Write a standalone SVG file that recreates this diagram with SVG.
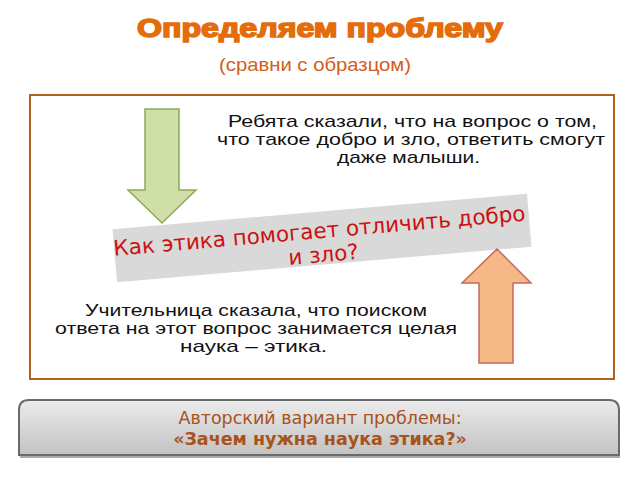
<svg xmlns="http://www.w3.org/2000/svg" width="640" height="480" viewBox="0 0 640 480">
  <style>
    .title { font-family: "Liberation Sans", Arial, sans-serif; font-weight: bold; fill: #e46c0a; stroke: #e46c0a; stroke-width: 1.5; }
    .sub { font-family: "Liberation Sans", Arial, sans-serif; fill: #d2601a; }
    .body { font-family: "Liberation Sans", Arial, sans-serif; fill: #111; font-size: 17px; }
    .ban { font-family: "DejaVu Sans", sans-serif; fill: #cc1010; font-size: 21.5px; }
    .foot { font-family: "DejaVu Sans", sans-serif; fill: #a8521c; font-size: 17.5px; }
  </style>
  <defs>
    <linearGradient id="gbox" x1="0" y1="0" x2="0" y2="1">
      <stop offset="0" stop-color="#ececec"/>
      <stop offset="1" stop-color="#c2c2c2"/>
    </linearGradient>
  </defs>
  <rect width="640" height="480" fill="#ffffff"/>

  <g id="title">
    <text class="title" x="320" y="37" font-size="25" text-anchor="middle" textLength="366" lengthAdjust="spacingAndGlyphs">Определяем проблему</text>
    <text class="sub" x="315" y="71" font-size="19" text-anchor="middle" textLength="192" lengthAdjust="spacingAndGlyphs">(сравни с образцом)</text>
  </g>

  <g id="frame">
    <rect x="30" y="95" width="584" height="284" fill="#ffffff" stroke="#b0621e" stroke-width="2"/>
  </g>

  <g id="text-top">
    <text class="body" x="412.5" y="126.5" text-anchor="middle" textLength="369" lengthAdjust="spacingAndGlyphs">Ребята сказали, что на вопрос о том,</text>
    <text class="body" x="411" y="144.5" text-anchor="middle" textLength="388" lengthAdjust="spacingAndGlyphs">что такое добро и зло, ответить смогут</text>
    <text class="body" x="408.5" y="162.5" text-anchor="middle" textLength="143" lengthAdjust="spacingAndGlyphs">даже малыши.</text>
  </g>

  <g id="text-bottom">
    <text class="body" x="256" y="316" text-anchor="middle" textLength="342" lengthAdjust="spacingAndGlyphs">Учительница сказала, что поиском</text>
    <text class="body" x="256" y="334" text-anchor="middle" textLength="402" lengthAdjust="spacingAndGlyphs">ответа на этот вопрос занимается целая</text>
    <text class="body" x="253.5" y="352" text-anchor="middle" textLength="147" lengthAdjust="spacingAndGlyphs">наука – этика.</text>
  </g>

  <g id="arrow-down">
    <polygon points="145,109 179,109 179,190 196,190 162,223 128,190 145,190" fill="#d0dfa8" stroke="#8cab55" stroke-width="1.5"/>
  </g>

  <g id="banner" transform="rotate(-4.9 322 238)">
    <rect x="114" y="211.5" width="416" height="53" fill="#d9d9d9"/>
    <text class="ban" x="320" y="238" text-anchor="middle">Как этика помогает отличить добро</text>
    <text class="ban" x="322" y="262" text-anchor="middle">и зло?</text>
  </g>

  <g id="arrow-up">
    <polygon points="497,249 531,283 513,283 513,363 479,363 479,283 462,283" fill="#f5b887" stroke="#c46a5c" stroke-width="1.5"/>
  </g>

  <g id="connectors"></g>

  <g id="answer">
    <path d="M20,457 L620,457" stroke="#555" stroke-width="2" opacity="0.5"/>
    <path d="M19,455 L19,410 Q19,400 29,400 L609,400 Q619,400 619,410 L619,455 Z" fill="url(#gbox)" stroke="#6a6a6a" stroke-width="2"/>
    <text class="foot" x="320" y="424" text-anchor="middle">Авторский вариант проблемы:</text>
    <text class="foot" x="320" y="445" text-anchor="middle" font-weight="bold">«Зачем нужна наука этика?»</text>
  </g>
</svg>
